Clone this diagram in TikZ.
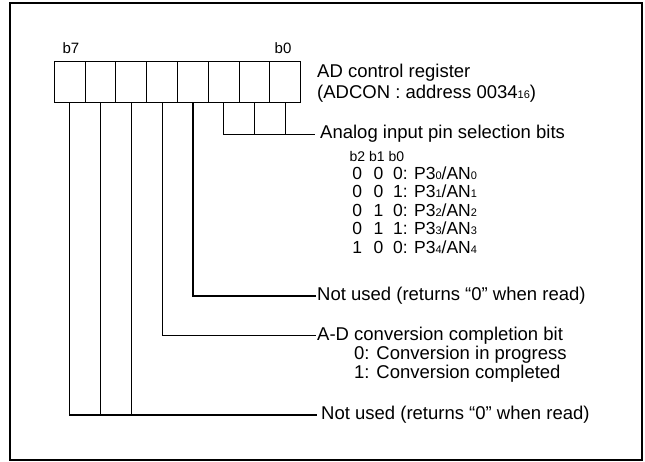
\documentclass[tikz,border=0pt]{standalone}
\usepackage{fontspec}
\setmainfont{Liberation Sans}
\usetikzlibrary{positioning}

\newcommand{\lowidx}[1]{{\fontsize{11}{11}\selectfont #1}}
\newcommand{\selrow}[3]{\makebox[21.3pt]{#1}\makebox[21.3pt]{#2}\hspace{4pt}#3:}

\begin{document}
\begin{tikzpicture}[x=1pt, y=-1pt,
	entry/.style={rectangle, draw, line width=1pt, minimum width=30.8pt, minimum height=41pt, inner sep=0pt, outer sep=0pt},
	tag/.style={anchor=west, inner sep=1pt, font=\fontsize{18.5}{21}\selectfont, text height=13pt, text depth=4pt},
	row/.style={anchor=base west, inner sep=0pt, font=\fontsize{17.5}{19}\selectfont},
	bitno/.style={anchor=base, inner sep=0pt, font=\fontsize{15}{15}\selectfont},
	wire/.style={line width=1.2pt}]
	\useasboundingbox (0,0) rectangle (645,461);
	\draw [line width=1.8pt] (10,3) rectangle (641.7,460);

	% register cells, b7 on the left
	\node [entry] (r7) at (69.7,81.5) {};
	\node [entry, right=0em of r7] (r6) {};
	\node [entry, right=0em of r6] (r5) {};
	\node [entry, right=0em of r5] (r4) {};
	\node [entry, right=0em of r4] (r3) {};
	\node [entry, right=0em of r3] (r2) {};
	\node [entry, right=0em of r2] (r1) {};
	\node [entry, right=0em of r1] (r0) {};
	\node [bitno] (t7) at (71,53.3) {b7};
	\node [bitno] (t0) at (283,53.3) {b0};

	\node [anchor=base west, inner sep=1pt, font=\fontsize{18.5}{21}\selectfont] (reg) at (316,77.7) {AD control register};
	\node [anchor=base west, inner sep=1pt, font=\fontsize{18.5}{21}\selectfont] (adr) at (316,98.5) {(ADCON : address 0034\lowidx{16})};

	% pin selection
	\node [tag, inner xsep=5pt] (sel) at (315,134.3) {Analog input pin selection bits};
	\node [row, font=\fontsize{14}{14}\selectfont] (hdr) at (349.5,161) {b2 b1 b0};
	\node [row] (pin0) at (346.3,179) {\selrow{0}{0}{0} P3\lowidx{0}/AN\lowidx{0}};
	\node [row] (pin1) at (346.3,197.5) {\selrow{0}{0}{1} P3\lowidx{1}/AN\lowidx{1}};
	\node [row] (pin2) at (346.3,216) {\selrow{0}{1}{0} P3\lowidx{2}/AN\lowidx{2}};
	\node [row] (pin3) at (346.3,234.5) {\selrow{0}{1}{1} P3\lowidx{3}/AN\lowidx{3}};
	\node [row] (pin4) at (346.3,253) {\selrow{1}{0}{0} P3\lowidx{4}/AN\lowidx{4}};

	\node [tag] (nu1) at (316,296) {Not used (returns ``0'' when read)};
	\node [tag] (adc) at (316,335.5) {A-D conversion completion bit};
	\node [row, font=\fontsize{18.5}{21}\selectfont] (prog) at (354,359.5) {0: Conversion in progress};
	\node [row, font=\fontsize{18.5}{21}\selectfont] (done) at (354,378.5) {1: Conversion completed};
	\node [tag, inner xsep=4pt] (nu2) at (317,415) {Not used (returns ``0'' when read)};

	% connectors
	\draw [wire] (r7.south) |- (nu2.west);
	\draw [wire] (r6.south) -- (r6.south |- nu2.west);
	\draw [wire] (r5.south) -- (r5.south |- nu2.west);
	\draw [wire] (r4.south) |- (adc.west);
	\draw [wire] (r3.south) |- (nu1.west);
	\draw [wire] (r2.south) |- (sel.west);
	\draw [wire] (r1.south) -- (r1.south |- sel.west);
	\draw [wire] (r0.south) -- (r0.south |- sel.west);
\end{tikzpicture}
\end{document}
